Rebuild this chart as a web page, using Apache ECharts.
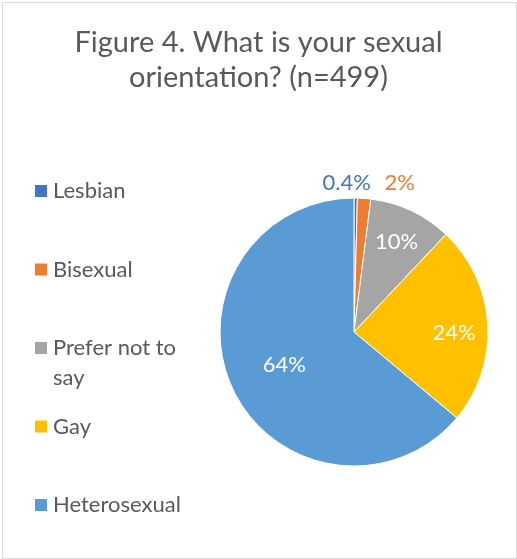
<!DOCTYPE html>
<html>
<head>
<meta charset="utf-8">
<script src="https://cdn.jsdelivr.net/npm/echarts@6/dist/echarts.min.js"></script>
<style>
  html, body { margin: 0; padding: 0; background: #fff; }
  #chart { width: 517px; height: 559px; }
  .frame { position: absolute; left: 2px; top: 2px; width: 513px; height: 555px; border: 1px solid #d9d9d9; pointer-events: none; }
</style>
</head>
<body>
<div id="chart"></div>
<div class="frame"></div>
<script>
// respondents per answer (n = 499)
const categories = ['Lesbian', 'Bisexual', 'Prefer not to say', 'Gay', 'Heterosexual']
const counts = [2, 8, 50, 120, 319]
const colors = ['#4472C4', '#ED7D31', '#A5A5A5', '#FFC000', '#5B9BD5']

const FONT = 'Lato, "Open Sans", sans-serif'
const CX = 354
const CY = 332
const R = 134
// where each % label sits: distance from centre and a nudge off the mid angle
const labelRadius = [149, 156, 100, 100, 77]
const labelAngleShift = [-3.5, 12.7, 0, 4, 0]

const total = counts.reduce((a, b) => a + b, 0)

function pctText (v) {
  const p = v / total * 100
  return p < 1 ? p.toFixed(1) + '%' : Math.round(p) + '%'
}

const chart = echarts.init(document.getElementById('chart'))

const option = {
  animation: false,
  color: colors,
  title: {
    text: 'Figure 4. What is your sexual\norientation? (n=499)',
    left: 'center',
    top: 25,
    padding: 0,
    textStyle: {
      fontFamily: FONT,
      fontSize: 29,
      lineHeight: 35,
      fontWeight: 'normal',
      color: '#595959'
    }
  },
  legend: {
    orient: 'vertical',
    left: 33,
    top: 146,
    padding: 0,
    icon: 'rect',
    itemWidth: 14,
    itemHeight: 14,
    itemGap: -11.5,
    data: categories.map(n => ({
      name: n,
      textStyle: { padding: n === 'Prefer not to say' ? 0 : [30, 0, 30, 0] }
    })),
    // wrapped entry keeps its first line level with the marker
    formatter: n => n === 'Prefer not to say' ? '\nPrefer not to\nsay' : n,
    textStyle: {
      fontFamily: FONT,
      fontSize: 22,
      lineHeight: 30,
      color: '#595959'
    }
  },
  series: [
    {
      type: 'pie',
      center: [CX, CY],
      radius: [0, R],
      startAngle: 90,
      clockwise: true,
      avoidLabelOverlap: false,
      itemStyle: { borderColor: '#fff', borderWidth: 1 },
      label: {
        show: true,
        position: 'inside',
        fontFamily: FONT,
        fontSize: 22,
        formatter: p => pctText(p.value)
      },
      labelLine: { show: false },
      labelLayout: function (params) {
        const i = params.dataIndex
        let before = 0
        for (let k = 0; k < i; k++) before += counts[k]
        const deg = (before + counts[i] / 2) / total * 360 + labelAngleShift[i]
        const rad = deg * Math.PI / 180
        return {
          x: CX + labelRadius[i] * Math.sin(rad),
          y: CY - labelRadius[i] * Math.cos(rad),
          align: 'center',
          verticalAlign: 'middle'
        }
      },
      data: categories.map((n, i) => ({
        name: n,
        value: counts[i],
        label: { color: i < 2 ? colors[i] : '#fff' }
      }))
    }
  ]
}

chart.setOption(option)

window.addEventListener('resize', () => {
  chart.resize()
})
</script>
</body>
</html>
